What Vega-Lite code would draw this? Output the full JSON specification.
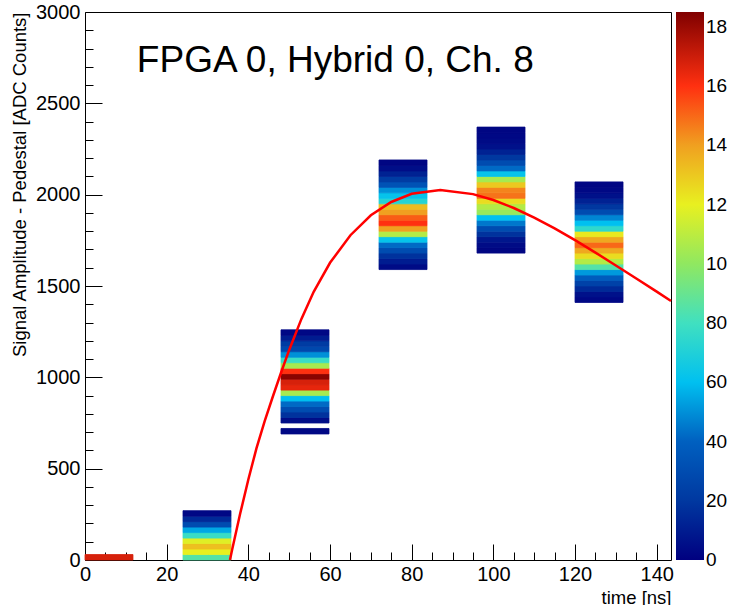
{
  "$schema": "https://vega.github.io/schema/vega-lite/v6.json",
  "width": 586,
  "height": 548,
  "autosize": "none",
  "padding": {"left": 85, "top": 12, "right": 58, "bottom": 45},
  "background": "white",
  "config": {
    "font": "Liberation Sans",
    "view": {"stroke": "#000", "strokeWidth": 1},
    "axis": {"labelFont": "Liberation Sans", "labelFontSize": 20, "labelColor": "#000", "tickColor": "#000", "tickWidth": 1, "domain": false, "grid": false, "zindex": 1, "titleFont": "Liberation Sans", "titleFontWeight": "normal", "titleColor": "#000", "format": "d", "labelFlush": false},
    "legend": {"labelFont": "Liberation Sans", "labelFontSize": 19, "labelColor": "#000"}
  },
  "datasets": {
    "cells": [
      {"t0": 0, "t1": 11.75, "a0": 0, "a1": 30, "n": 168},
      {"t0": 24, "t1": 35.75, "a0": 0, "a1": 30, "n": 85},
      {"t0": 24, "t1": 35.75, "a0": 30, "a1": 60, "n": 120},
      {"t0": 24, "t1": 35.75, "a0": 60, "a1": 90, "n": 132},
      {"t0": 24, "t1": 35.75, "a0": 90, "a1": 120, "n": 118},
      {"t0": 24, "t1": 35.75, "a0": 120, "a1": 150, "n": 78},
      {"t0": 24, "t1": 35.75, "a0": 150, "a1": 180, "n": 55},
      {"t0": 24, "t1": 35.75, "a0": 180, "a1": 210, "n": 30},
      {"t0": 24, "t1": 35.75, "a0": 210, "a1": 240, "n": 15},
      {"t0": 24, "t1": 35.75, "a0": 240, "a1": 270, "n": 3},
      {"t0": 48, "t1": 59.75, "a0": 690, "a1": 720, "n": 3},
      {"t0": 48, "t1": 59.75, "a0": 750, "a1": 780, "n": 5},
      {"t0": 48, "t1": 59.75, "a0": 780, "a1": 810, "n": 18},
      {"t0": 48, "t1": 59.75, "a0": 810, "a1": 840, "n": 30},
      {"t0": 48, "t1": 59.75, "a0": 840, "a1": 870, "n": 42},
      {"t0": 48, "t1": 59.75, "a0": 870, "a1": 900, "n": 60},
      {"t0": 48, "t1": 59.75, "a0": 900, "a1": 930, "n": 105},
      {"t0": 48, "t1": 59.75, "a0": 930, "a1": 960, "n": 165},
      {"t0": 48, "t1": 59.75, "a0": 960, "a1": 990, "n": 168},
      {"t0": 48, "t1": 59.75, "a0": 990, "a1": 1020, "n": 183},
      {"t0": 48, "t1": 59.75, "a0": 1020, "a1": 1050, "n": 160},
      {"t0": 48, "t1": 59.75, "a0": 1050, "a1": 1080, "n": 105},
      {"t0": 48, "t1": 59.75, "a0": 1080, "a1": 1110, "n": 78},
      {"t0": 48, "t1": 59.75, "a0": 1110, "a1": 1140, "n": 50},
      {"t0": 48, "t1": 59.75, "a0": 1140, "a1": 1170, "n": 28},
      {"t0": 48, "t1": 59.75, "a0": 1170, "a1": 1200, "n": 22},
      {"t0": 48, "t1": 59.75, "a0": 1200, "a1": 1230, "n": 10},
      {"t0": 48, "t1": 59.75, "a0": 1230, "a1": 1260, "n": 3},
      {"t0": 72, "t1": 83.75, "a0": 1590, "a1": 1620, "n": 4},
      {"t0": 72, "t1": 83.75, "a0": 1620, "a1": 1650, "n": 10},
      {"t0": 72, "t1": 83.75, "a0": 1650, "a1": 1680, "n": 18},
      {"t0": 72, "t1": 83.75, "a0": 1680, "a1": 1710, "n": 30},
      {"t0": 72, "t1": 83.75, "a0": 1710, "a1": 1740, "n": 42},
      {"t0": 72, "t1": 83.75, "a0": 1740, "a1": 1770, "n": 62},
      {"t0": 72, "t1": 83.75, "a0": 1770, "a1": 1800, "n": 108},
      {"t0": 72, "t1": 83.75, "a0": 1800, "a1": 1830, "n": 140},
      {"t0": 72, "t1": 83.75, "a0": 1830, "a1": 1860, "n": 160},
      {"t0": 72, "t1": 83.75, "a0": 1860, "a1": 1890, "n": 152},
      {"t0": 72, "t1": 83.75, "a0": 1890, "a1": 1920, "n": 140},
      {"t0": 72, "t1": 83.75, "a0": 1920, "a1": 1950, "n": 133},
      {"t0": 72, "t1": 83.75, "a0": 1950, "a1": 1980, "n": 72},
      {"t0": 72, "t1": 83.75, "a0": 1980, "a1": 2010, "n": 62},
      {"t0": 72, "t1": 83.75, "a0": 2010, "a1": 2040, "n": 50},
      {"t0": 72, "t1": 83.75, "a0": 2040, "a1": 2070, "n": 33},
      {"t0": 72, "t1": 83.75, "a0": 2070, "a1": 2100, "n": 22},
      {"t0": 72, "t1": 83.75, "a0": 2100, "a1": 2130, "n": 12},
      {"t0": 72, "t1": 83.75, "a0": 2130, "a1": 2160, "n": 5},
      {"t0": 72, "t1": 83.75, "a0": 2160, "a1": 2190, "n": 2},
      {"t0": 96, "t1": 107.75, "a0": 1680, "a1": 1710, "n": 2},
      {"t0": 96, "t1": 107.75, "a0": 1710, "a1": 1740, "n": 4},
      {"t0": 96, "t1": 107.75, "a0": 1740, "a1": 1770, "n": 8},
      {"t0": 96, "t1": 107.75, "a0": 1770, "a1": 1800, "n": 18},
      {"t0": 96, "t1": 107.75, "a0": 1800, "a1": 1830, "n": 30},
      {"t0": 96, "t1": 107.75, "a0": 1830, "a1": 1860, "n": 45},
      {"t0": 96, "t1": 107.75, "a0": 1860, "a1": 1890, "n": 60},
      {"t0": 96, "t1": 107.75, "a0": 1890, "a1": 1920, "n": 102},
      {"t0": 96, "t1": 107.75, "a0": 1920, "a1": 1950, "n": 108},
      {"t0": 96, "t1": 107.75, "a0": 1950, "a1": 1980, "n": 125},
      {"t0": 96, "t1": 107.75, "a0": 1980, "a1": 2010, "n": 148},
      {"t0": 96, "t1": 107.75, "a0": 2010, "a1": 2040, "n": 145},
      {"t0": 96, "t1": 107.75, "a0": 2040, "a1": 2070, "n": 130},
      {"t0": 96, "t1": 107.75, "a0": 2070, "a1": 2100, "n": 105},
      {"t0": 96, "t1": 107.75, "a0": 2100, "a1": 2130, "n": 62},
      {"t0": 96, "t1": 107.75, "a0": 2130, "a1": 2160, "n": 42},
      {"t0": 96, "t1": 107.75, "a0": 2160, "a1": 2190, "n": 30},
      {"t0": 96, "t1": 107.75, "a0": 2190, "a1": 2220, "n": 20},
      {"t0": 96, "t1": 107.75, "a0": 2220, "a1": 2250, "n": 12},
      {"t0": 96, "t1": 107.75, "a0": 2250, "a1": 2280, "n": 6},
      {"t0": 96, "t1": 107.75, "a0": 2280, "a1": 2310, "n": 4},
      {"t0": 96, "t1": 107.75, "a0": 2310, "a1": 2340, "n": 3},
      {"t0": 96, "t1": 107.75, "a0": 2340, "a1": 2370, "n": 2},
      {"t0": 120, "t1": 131.75, "a0": 1410, "a1": 1440, "n": 3},
      {"t0": 120, "t1": 131.75, "a0": 1440, "a1": 1470, "n": 6},
      {"t0": 120, "t1": 131.75, "a0": 1470, "a1": 1500, "n": 15},
      {"t0": 120, "t1": 131.75, "a0": 1500, "a1": 1530, "n": 25},
      {"t0": 120, "t1": 131.75, "a0": 1530, "a1": 1560, "n": 38},
      {"t0": 120, "t1": 131.75, "a0": 1560, "a1": 1590, "n": 52},
      {"t0": 120, "t1": 131.75, "a0": 1590, "a1": 1620, "n": 85},
      {"t0": 120, "t1": 131.75, "a0": 1620, "a1": 1650, "n": 108},
      {"t0": 120, "t1": 131.75, "a0": 1650, "a1": 1680, "n": 125},
      {"t0": 120, "t1": 131.75, "a0": 1680, "a1": 1710, "n": 138},
      {"t0": 120, "t1": 131.75, "a0": 1710, "a1": 1740, "n": 150},
      {"t0": 120, "t1": 131.75, "a0": 1740, "a1": 1770, "n": 138},
      {"t0": 120, "t1": 131.75, "a0": 1770, "a1": 1800, "n": 122},
      {"t0": 120, "t1": 131.75, "a0": 1800, "a1": 1830, "n": 75},
      {"t0": 120, "t1": 131.75, "a0": 1830, "a1": 1860, "n": 60},
      {"t0": 120, "t1": 131.75, "a0": 1860, "a1": 1890, "n": 48},
      {"t0": 120, "t1": 131.75, "a0": 1890, "a1": 1920, "n": 30},
      {"t0": 120, "t1": 131.75, "a0": 1920, "a1": 1950, "n": 20},
      {"t0": 120, "t1": 131.75, "a0": 1950, "a1": 1980, "n": 12},
      {"t0": 120, "t1": 131.75, "a0": 1980, "a1": 2010, "n": 6},
      {"t0": 120, "t1": 131.75, "a0": 2010, "a1": 2040, "n": 3},
      {"t0": 120, "t1": 131.75, "a0": 2040, "a1": 2070, "n": 2}
    ],
    "fit": [
      {"t": 35.5, "a": 0}, {"t": 36, "a": 53}, {"t": 38, "a": 254}, {"t": 40, "a": 441},
      {"t": 42, "a": 612}, {"t": 44, "a": 760}, {"t": 46, "a": 895}, {"t": 48, "a": 1025},
      {"t": 50, "a": 1150}, {"t": 53, "a": 1320}, {"t": 56, "a": 1468}, {"t": 60, "a": 1627},
      {"t": 65, "a": 1778}, {"t": 70, "a": 1887}, {"t": 75, "a": 1960}, {"t": 80, "a": 2005},
      {"t": 87, "a": 2025}, {"t": 95, "a": 2003}, {"t": 100, "a": 1971}, {"t": 105, "a": 1927},
      {"t": 110, "a": 1874}, {"t": 115, "a": 1815}, {"t": 120, "a": 1751}, {"t": 125, "a": 1683},
      {"t": 130, "a": 1612}, {"t": 135, "a": 1541}, {"t": 140, "a": 1469}, {"t": 143.5, "a": 1418}
    ],
    "label": [{"t": 12.7, "a": 2671, "text": "FPGA 0, Hybrid 0, Ch. 8"}]
  },
  "layer": [
    {
      "data": {"name": "cells"},
      "mark": {"type": "rect", "strokeWidth": 0.8, "stroke": {"expr": "scale('color', datum.n)"}},
      "encoding": {
        "x": {"field": "t0", "type": "quantitative", "scale": {"domain": [0, 143.5], "nice": false, "zero": false},
              "axis": {"orient": "bottom", "values": [0,5,10,15,20,25,30,35,40,45,50,55,60,65,70,75,80,85,90,95,100,105,110,115,120,125,130,135,140], "tickSize": -8, "labels": false, "title": null}},
        "x2": {"field": "t1"},
        "y": {"field": "a0", "type": "quantitative", "scale": {"domain": [0, 3000], "nice": false, "zero": false},
              "axis": {"orient": "left", "values": [100,200,300,400,500,600,700,800,900,1000,1100,1200,1300,1400,1500,1600,1700,1800,1900,2000,2100,2200,2300,2400,2500,2600,2700,2800,2900], "tickSize": -8, "labels": false, "title": null}},
        "y2": {"field": "a1"},
        "color": {"field": "n", "type": "quantitative",
          "scale": {"domain": [0, 20, 40, 60, 80, 100, 120, 140, 160, 185], "range": ["#000080", "#0038a0", "#0060c0", "#00c0f0", "#40e0c0", "#90e860", "#e8f020", "#f0a020", "#ff3010", "#800000"], "interpolate": "rgb"},
          "legend": {"title": null, "orient": "none", "legendX": 591, "legendY": 0, "direction": "vertical", "gradientLength": 548, "gradientThickness": 28, "gradientStrokeWidth": 0, "values": [0,20,40,60,80,100,120,140,160,180], "labelExpr": "substring(datum.label, 0, 2)", "labelOffset": 2, "labelOverlap": false, "padding": 0,
            "encode": {"labels": {"update": {"baseline": {"value": "middle"}}}}}
        }
      }
    },
    {
      "data": {"name": "fit"},
      "mark": {"type": "line", "color": "#ff0000", "strokeWidth": 2.5, "interpolate": "linear"},
      "encoding": {
        "x": {"field": "t", "type": "quantitative", "scale": {"domain": [0, 143.5], "nice": false, "zero": false},
              "axis": {"orient": "bottom", "values": [0,20,40,60,80,100,120,140], "tickSize": -16, "labelPadding": 20, "title": "time [ns]", "titleFontSize": 18.5, "titleAnchor": "end", "titleAlign": "right", "titleX": 586, "titleY": 43, "titleBaseline": "alphabetic"}},
        "y": {"field": "a", "type": "quantitative", "scale": {"domain": [0, 3000], "nice": false, "zero": false},
              "axis": {"orient": "left", "values": [0,500,1000,1500,2000,2500,3000], "tickSize": -17, "labelPadding": 22, "title": "Signal Amplitude - Pedestal [ADC Counts]", "titleFontSize": 18.5, "titleAngle": -90, "titleAlign": "right", "titleBaseline": "middle", "titleX": -66, "titleY": 0}}
      }
    },
    {
      "data": {"name": "label"},
      "mark": {"type": "text", "align": "left", "baseline": "alphabetic", "fontSize": 37, "font": "Liberation Sans", "color": "#000"},
      "encoding": {
        "x": {"field": "t", "type": "quantitative", "axis": null},
        "y": {"field": "a", "type": "quantitative", "axis": null},
        "text": {"field": "text"}
      }
    }
  ],
  "resolve": {"axis": {"x": "independent", "y": "independent"}}
}
